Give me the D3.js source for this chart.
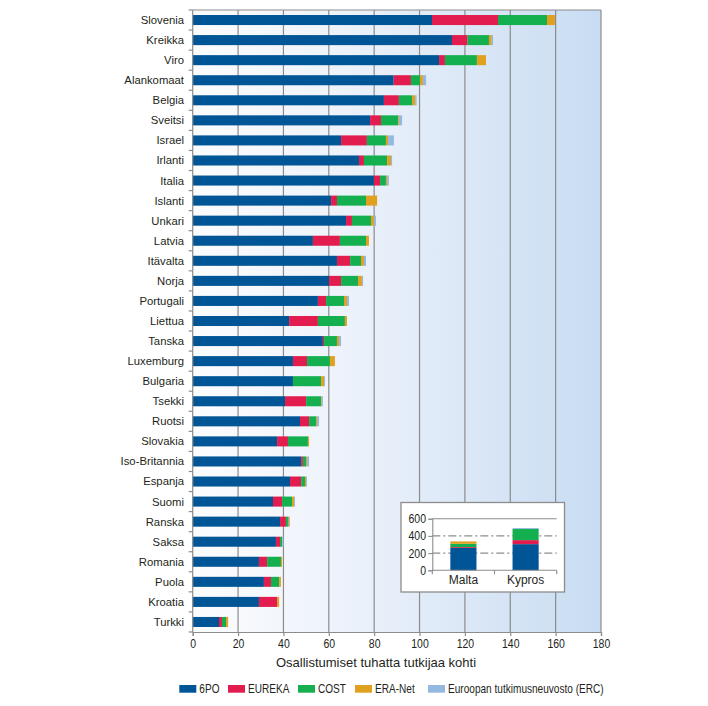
<!DOCTYPE html>
<html><head><meta charset="utf-8">
<script src="https://cdn.jsdelivr.net/npm/d3@7/dist/d3.min.js"></script>
<style>
html,body{margin:0;padding:0;background:#fff;}
text{fill:#231f20;font-family:"Liberation Sans",Arial,sans-serif;}
</style>
</head><body>
<svg id="chart" width="708" height="706"></svg>
<script>
const categories = ["Slovenia","Kreikka","Viro","Alankomaat","Belgia","Sveitsi","Israel","Irlanti","Italia","Islanti","Unkari","Latvia","Itävalta","Norja","Portugali","Liettua","Tanska","Luxemburg","Bulgaria","Tsekki","Ruotsi","Slovakia","Iso-Britannia","Espanja","Suomi","Ranska","Saksa","Romania","Puola","Kroatia","Turkki"];
const po6    = [105.5,114.3,108.6,88.6,84.3,78.2,65.4,73.3,79.9,61.0,67.6,53.0,63.6,60.1,55.2,42.5,57.4,44.2,44.2,40.7,47.3,37.2,47.8,42.9,35.4,38.5,36.7,29.2,31.4,29.2,11.6];
const eureka = [29.1,6.9,2.6,7.6,6.6,4.8,11.4,2.2,2.7,2.6,2.6,11.9,5.8,5.3,3.6,12.7,0.5,6.2,0,9.3,4.0,4.8,0.8,4.9,4.0,2.6,1.8,3.6,3.1,8.0,1.3];
const cost   = [21.6,9.4,14.1,4.0,5.8,7.5,8.4,10.2,2.6,12.8,8.4,11.5,4.8,7.5,7.9,11.9,5.7,10.1,12.4,6.6,3.1,8.8,1.4,1.7,4.4,0.9,0.9,6.1,3.6,0,1.8];
const eraNet = [3.5,1.2,4.0,1.3,1.4,0.4,0.9,1.7,0.5,4.9,1.3,1.3,1.3,1.7,1.3,0.9,0.9,2.2,1.3,0.3,0.4,0.5,0.4,0.5,0.9,0.5,0.1,0.5,0.8,0.9,0.9];
const erc    = [0,0.6,0,1.4,0.6,1.4,2.6,0.5,0.8,0,0.9,0,0.9,0.5,0.9,0,0.9,0,0.4,0.5,0.9,0,0.9,0.4,0.4,0.4,0.5,0,0,0,0];
const xTicks = [0,20,40,60,80,100,120,140,160,180];

const insetCategories = ["Malta","Kypros"];
const insetPo6    = [260,304];
const insetEureka = [10,47];
const insetCost   = [38,129];
const insetEraNet = [28,0];
const insetErc    = [0,11];
const insetTicks  = [0,200,400,600];

const seriesNames = ["6PO","EUREKA","COST","ERA-Net","Euroopan tutkimusneuvosto (ERC)"];
const seriesKeys  = ["po6","eureka","cost","eraNet","erc"];
const colors = ["#005596","#e31c4f","#14b050","#e0a020","#94b8df"];

const svg = d3.select("#chart");
const grid = "#8c8c8c";
const NARROW = 0.84;

// main chart
const x = d3.scaleLinear().domain([0,180]).range([192.7,601]);
const y = d3.scaleBand().domain(categories).range([10,632]).paddingInner(0.5).paddingOuter(0.25);

const defs = svg.append("defs");
const grad = defs.append("linearGradient").attr("id","bg").attr("x1","0").attr("x2","1").attr("y1","0").attr("y2","0");
grad.append("stop").attr("offset","0").attr("stop-color","#fbfcfe");
grad.append("stop").attr("offset","0.35").attr("stop-color","#eef3fb");
grad.append("stop").attr("offset","1").attr("stop-color","#c8dcf2");

svg.append("rect").attr("x",x(0)).attr("y",10).attr("width",x(180)-x(0)).attr("height",622).attr("fill","url(#bg)");

// gridlines
svg.append("g").selectAll("line").data(xTicks.filter(d=>d>0)).join("line")
  .attr("x1",d=>x(d)).attr("x2",d=>x(d)).attr("y1",10).attr("y2",632)
  .attr("stroke",grid).attr("stroke-width",1.2);
svg.append("line").attr("x1",x(0)).attr("x2",x(180)).attr("y1",10).attr("y2",10).attr("stroke",grid).attr("stroke-width",1.2);

// stacked bars
const rows = categories.map((c,i)=>({cat:c,po6:po6[i],eureka:eureka[i],cost:cost[i],eraNet:eraNet[i],erc:erc[i]}));
const stack = d3.stack().keys(seriesKeys)(rows);
svg.append("g").selectAll("g").data(stack).join("g").attr("fill",(d,i)=>colors[i])
  .selectAll("rect").data(d=>d).join("rect")
  .attr("x",d=>x(d[0])).attr("width",d=>Math.max(0,x(d[1])-x(d[0])))
  .attr("y",d=>y(d.data.cat)).attr("height",y.bandwidth());

// y axis
svg.append("line").attr("x1",x(0)).attr("x2",x(0)).attr("y1",10).attr("y2",632).attr("stroke",grid).attr("stroke-width",1.2);
const step = y.step();
svg.append("g").selectAll("line").data(d3.range(categories.length+1)).join("line")
  .attr("x1",x(0)-4).attr("x2",x(0)).attr("y1",i=>10+i*step).attr("y2",i=>10+i*step)
  .attr("stroke",grid).attr("stroke-width",1.2);
svg.append("g").selectAll("text").data(categories).join("text")
  .attr("x",184).attr("y",d=>y(d)+y.bandwidth()/2).attr("dy","0.35em")
  .attr("text-anchor","end").attr("font-size","11.3px").text(d=>d);

// x axis
const xAxis = svg.append("g").attr("transform","translate(0,632)")
  .call(d3.axisBottom(x).tickValues(xTicks).tickSize(4).tickPadding(3));
xAxis.attr("font-family",null);
xAxis.select(".domain").attr("stroke",grid).attr("stroke-width",1.2);
xAxis.selectAll(".tick line").attr("stroke",grid).attr("stroke-width",1.2);
xAxis.selectAll(".tick text").attr("font-size","12.5px").attr("fill","#231f20")
  .attr("transform",`scale(${NARROW},1)`);

svg.append("text").attr("x",376).attr("y",667).attr("text-anchor","middle")
  .attr("font-size","13px").text("Osallistumiset tuhatta tutkijaa kohti");

// inset
svg.append("rect").attr("x",401).attr("y",502.5).attr("width",163.5).attr("height",89.5)
  .attr("fill","#fff").attr("stroke",grid).attr("stroke-width",1.3);
const ix = d3.scaleBand().domain(insetCategories).range([432.3,556.7]).paddingInner(0.58).paddingOuter(0.29);
const iy = d3.scaleLinear().domain([0,600]).range([570.3,518.7]);
svg.append("g").selectAll("line").data(insetTicks.filter(d=>d>0)).join("line")
  .attr("x1",432.3).attr("x2",556.7).attr("y1",d=>iy(d)).attr("y2",d=>iy(d))
  .attr("stroke",grid).attr("stroke-width",1.1)
  .attr("stroke-dasharray",d=>d===600?null:"8,3,2,3");
const irows = insetCategories.map((c,i)=>({cat:c,po6:insetPo6[i],eureka:insetEureka[i],cost:insetCost[i],eraNet:insetEraNet[i],erc:insetErc[i]}));
const istack = d3.stack().keys(seriesKeys)(irows);
svg.append("g").selectAll("g").data(istack).join("g").attr("fill",(d,i)=>colors[i])
  .selectAll("rect").data(d=>d).join("rect")
  .attr("x",d=>ix(d.data.cat)).attr("width",ix.bandwidth())
  .attr("y",d=>iy(d[1])).attr("height",d=>Math.max(0,iy(d[0])-iy(d[1])));
const iyAxis = svg.append("g").attr("transform","translate(432.3,0)")
  .call(d3.axisLeft(iy).tickValues(insetTicks).tickSize(4).tickPadding(2));
iyAxis.attr("font-family",null);
iyAxis.select(".domain").attr("stroke",grid).attr("stroke-width",1.1);
iyAxis.selectAll(".tick line").attr("stroke",grid).attr("stroke-width",1.1);
iyAxis.selectAll(".tick text").attr("font-size","12.5px").attr("fill","#231f20")
  .attr("x",-7.5).attr("transform",`scale(${NARROW},1)`);
svg.append("line").attr("x1",432.3).attr("x2",556.7).attr("y1",iy(0)).attr("y2",iy(0)).attr("stroke",grid).attr("stroke-width",1.1);
svg.append("g").selectAll("line").data([0,1,2]).join("line")
  .attr("x1",i=>432.3+i*ix.step()).attr("x2",i=>432.3+i*ix.step())
  .attr("y1",iy(0)).attr("y2",iy(0)+4).attr("stroke",grid).attr("stroke-width",1.1);
svg.append("g").selectAll("text").data(insetCategories).join("text")
  .attr("x",d=>ix(d)+ix.bandwidth()/2).attr("y",584).attr("text-anchor","middle")
  .attr("font-size","12px").text(d=>d);

// legend
const legX = [179.3,228,298,355,428];
const leg = svg.append("g");
seriesNames.forEach((n,i)=>{
  leg.append("rect").attr("x",legX[i]).attr("y",685).attr("width",17).attr("height",7.7).attr("fill",colors[i]);
  leg.append("text").attr("transform",`translate(${legX[i]+20},692.6) scale(${NARROW},1)`)
    .attr("font-size","12px").text(n);
});
</script>
</body></html>
